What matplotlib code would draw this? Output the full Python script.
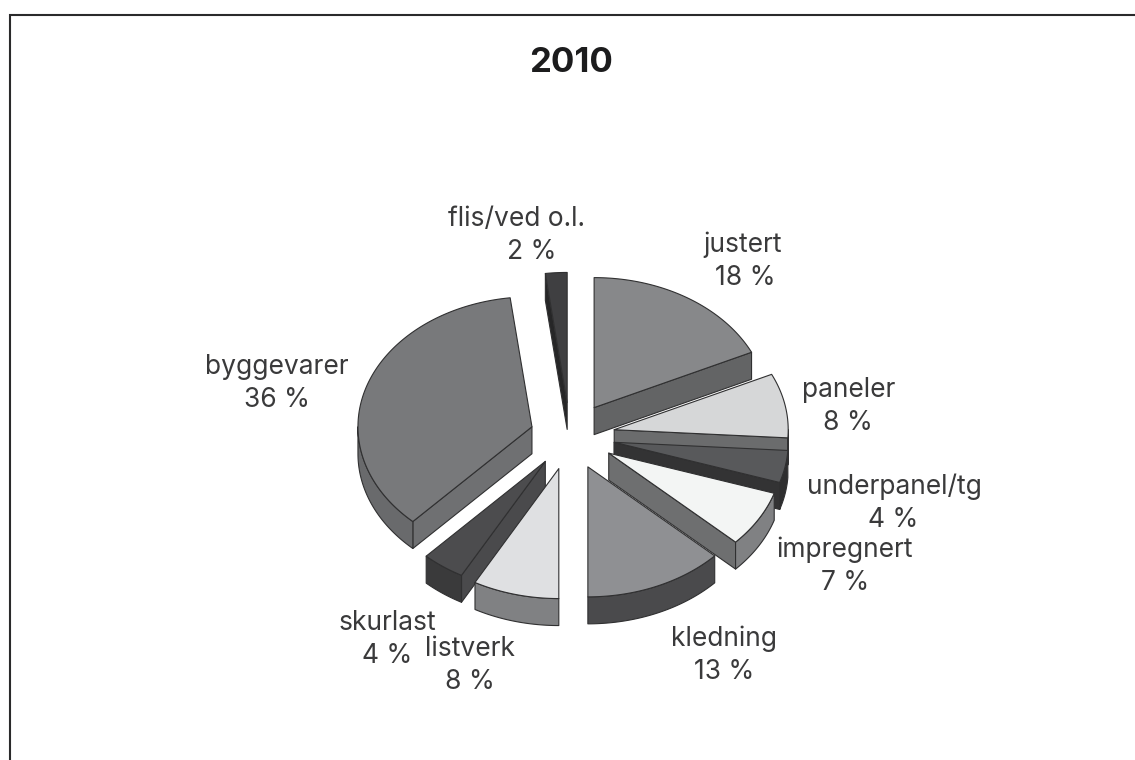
import numpy as np
from matplotlib import pyplot as plt
from matplotlib.patches import Polygon

plt.rcParams['font.family'] = ['Inter', 'DejaVu Sans']

names = ['justert', 'paneler', 'underpanel/tg', 'impregnert', 'kledning',
         'listverk', 'skurlast', 'byggevarer', 'flis/ved o.l.']
shares = [18, 8, 4, 7, 13, 8, 4, 36, 2]

# colours of each slice: top, cut face, outer wall
top_col = ['#87888a', '#d6d7d8', '#58595b', '#f3f5f4', '#8f9093',
           '#dfe0e2', '#4c4c4e', '#78797b', '#3f3f41']
face_col = ['#636465', '#6b6c6d', '#333334', '#6e6f70', '#4a4a4c',
            '#808183', '#4a4a4c', '#6f7072', '#262627']
wall_col = ['#636465', '#3a3a3b', '#2e2e2f', '#808183', '#4a4a4c',
            '#808183', '#3a3a3b', '#696a6c', '#262627']

# label positions in pixels: name x, name y, share x, share y
label_pos = [(743, 245, 745, 278), (849, 390, 848, 423), (894, 487, 893, 520),
             (845, 550, 845, 583), (724, 639, 724, 672), (470, 649, 470, 682),
             (387, 623, 387, 656), (277, 367, 277, 400), (517, 219, 532, 252)]

# pie geometry in pixels
cx, cy = 570, 436
rx, ry = 174, 130
depth = 27
explode = [45, 45, 45, 45, 45, 45, 42, 40, 45]
k = ry / rx
line_col = '#303031'

# back slices first, the later ones overlap them
draw_order = [8, 7, 0, 1, 2, 3, 4, 6, 5]

fig = plt.figure(figsize=(11.35, 7.6), dpi=100)
ax = fig.add_axes([0, 0, 1, 1])
ax.set_xlim(0, 1135)
ax.set_ylim(760, 0)
ax.axis('off')


def ellipse(a0, a1, x0, y0):
    t = np.radians(np.linspace(a0, a1, max(int(abs(a1 - a0)), 2) + 1))
    return np.column_stack([x0 + rx * np.sin(t), y0 - ry * np.cos(t)])


def patch(pts, col, z):
    ax.add_patch(Polygon(pts, closed=True, facecolor=col, edgecolor=line_col,
                         linewidth=0.8, joinstyle='round', zorder=z))


edges = np.cumsum([0] + shares) * 3.6
for z, i in enumerate(draw_order):
    a0, a1 = edges[i], edges[i + 1]
    mid = np.radians((a0 + a1) / 2)
    x0 = cx + explode[i] * np.sin(mid)
    y0 = cy - explode[i] * k * np.cos(mid)
    arc = ellipse(a0, a1, x0, y0)
    apex = np.array([x0, y0])
    down = np.array([0, depth])
    base = 10 + z * 5

    # only the faces turned to the viewer
    if np.sin(np.radians(a0)) < -1e-6:
        c = arc[0]
        patch(np.array([apex, c, c + down, apex + down]), face_col[i], base)
    if np.sin(np.radians(a1)) > 1e-6:
        c = arc[-1]
        patch(np.array([apex, c, c + down, apex + down]), face_col[i], base)

    w0, w1 = max(a0, 90), min(a1, 270)
    if w1 > w0:
        wall = ellipse(w0, w1, x0, y0)
        patch(np.vstack([wall, (wall + down)[::-1]]), wall_col[i], base + 1)
    patch(np.vstack([apex, arc]), top_col[i], base + 2)

for name, share, (nx, ny, sx, sy) in zip(names, shares, label_pos):
    ax.text(nx, ny, name, ha='center', va='center', fontsize=19,
            color='#3a3a3b', zorder=100)
    ax.text(sx, sy, f'{share} %', ha='center', va='center', fontsize=19,
            color='#3a3a3b', zorder=100)

ax.text(571, 63, '2010', ha='center', va='center', fontsize=25,
        fontweight='bold', color='#1c1c1d')

# frame of the page, only left and top
ax.plot([10, 10, 1135], [760, 15, 15], color='#2a2a2b',
        linewidth=1.5, solid_joinstyle='miter')

fig.savefig('out.png', dpi=100)
